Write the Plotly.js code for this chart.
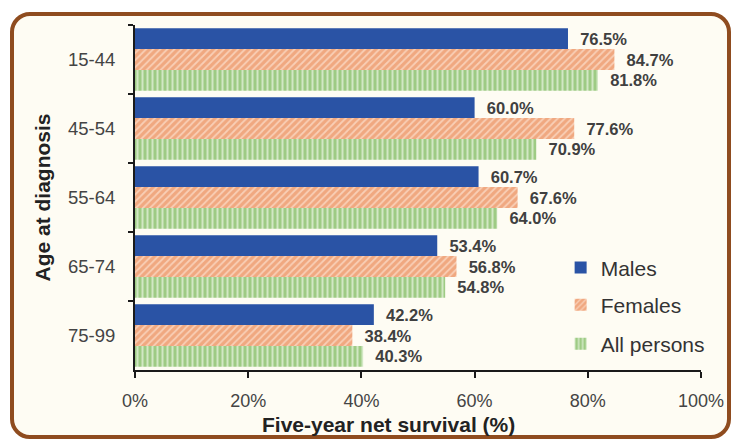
<!DOCTYPE html>
<html>
<head>
<meta charset="utf-8">
<script src="https://cdn.plot.ly/plotly-3.0.1.min.js"></script>
<style>
  html, body { margin: 0; padding: 0; background: #ffffff; }
  #frame { position: absolute; left: 10px; top: 12px; width: 713px; height: 419px;
           border: 4px solid #8f4c1f; border-radius: 20px; background: #fefcf3; }
  #chart { position: absolute; left: 0; top: 0; width: 734px; height: 439px; }
</style>
</head>
<body>
<div id="frame"></div>
<div id="chart"></div>
<script>
const ageGroups = ["15-44", "45-54", "55-64", "65-74", "75-99"];
const males = [76.5, 60.0, 60.7, 53.4, 42.2];
const females = [84.7, 77.6, 67.6, 56.8, 38.4];
const allPersons = [81.8, 70.9, 64.0, 54.8, 40.3];
const xTicks = [0, 20, 40, 60, 80, 100];

const FONT = "'Liberation Sans', Arial, sans-serif";
const labelFont = { family: FONT, size: 16.5, color: "#404040", weight: "bold" };
const NB = "\u00a0\u00a0";

function barTrace(name, values, marker, legendId) {
  return {
    type: "bar", orientation: "h", name: name,
    y: ageGroups, x: values,
    marker: marker,
    legend: legendId,
    text: values.map(v => NB + v.toFixed(1) + "%"),
    textposition: "outside",
    textfont: labelFont,
    constraintext: "none",
    cliponaxis: false,
    hoverinfo: "skip"
  };
}

const traces = [
  barTrace("Males", males, { color: "#2a53a5", line: { width: 0 } }, "legend"),
  barTrace("Females", females, {
    color: "#f0a880", line: { width: 0 },
    pattern: { shape: "/", bgcolor: "#f0a880", fgcolor: "#f9cfb6", size: 5, solidity: 0.35, fillmode: "replace" }
  }, "legend2"),
  barTrace("All persons", allPersons, {
    color: "#9ecb84", line: { width: 0 },
    pattern: { shape: "|", bgcolor: "#9ecb84", fgcolor: "#d2e8c4", size: 5, solidity: 0.4, fillmode: "replace" }
  }, "legend3")
];

function legendAt(yc) {
  return {
    x: 0.752, y: yc, xanchor: "left", yanchor: "middle",
    bgcolor: "rgba(0,0,0,0)",
    font: { family: FONT, size: 21, color: "#333333" },
    itemwidth: 30
  };
}

const layout = {
  width: 734, height: 439,
  margin: { l: 135, r: 33, t: 25, b: 69 },
  paper_bgcolor: "rgba(0,0,0,0)",
  plot_bgcolor: "rgba(0,0,0,0)",
  barmode: "group",
  bargap: 0.094,
  bargroupgap: 0,
  font: { family: FONT, color: "#333333" },
  xaxis: {
    range: [0, 100],
    tickvals: xTicks,
    ticktext: xTicks.map(v => v + "%"),
    ticks: "outside", ticklen: 6, tickwidth: 2, tickcolor: "#1a1a1a",
    showline: true, linecolor: "#1a1a1a", linewidth: 2,
    showgrid: false, zeroline: false,
    ticklabelstandoff: 7,
    tickfont: { family: FONT, size: 18, color: "#444444" }
  },
  yaxis: {
    autorange: "reversed",
    type: "category",
    tickson: "boundaries",
    ticks: "outside", ticklen: 5, tickwidth: 2, tickcolor: "#1a1a1a",
    showline: true, linecolor: "#1a1a1a", linewidth: 2,
    showgrid: false, zeroline: false,
    ticklabelstandoff: 14,
    tickfont: { family: FONT, size: 18.5, color: "#444444" },
    title: { text: "Age at diagnosis", font: { family: FONT, size: 21, color: "#222222", weight: "bold" }, standoff: 12 }
  },
  annotations: [{
    text: "<b>Five-year net survival (%)</b>",
    xref: "paper", yref: "paper", x: 0.447, y: -0.157,
    xanchor: "center", yanchor: "middle", showarrow: false,
    font: { family: FONT, size: 21, color: "#222222" }
  }],
  showlegend: true,
  legend: legendAt(0.296),
  legend2: legendAt(0.188),
  legend3: legendAt(0.075)
};

Plotly.newPlot("chart", traces, layout, { displayModeBar: false, staticPlot: true });
</script>
</body>
</html>
